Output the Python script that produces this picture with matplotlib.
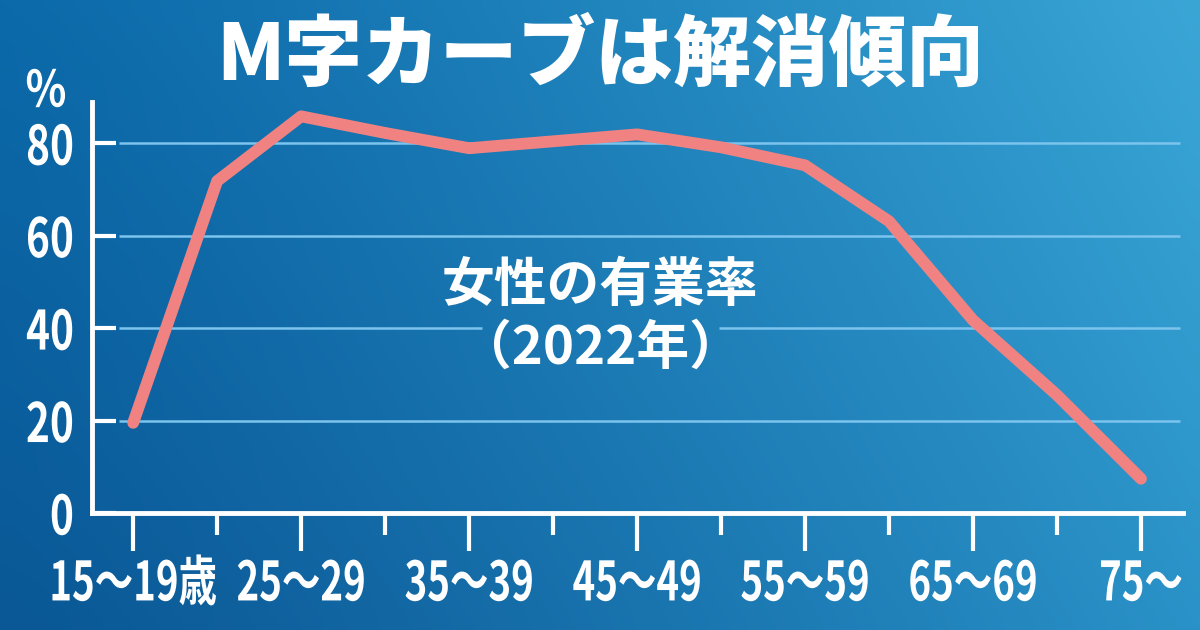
import numpy as np
import matplotlib
matplotlib.use("Agg")
import matplotlib.pyplot as plt
from matplotlib.colors import to_rgb
from matplotlib.patheffects import AbstractPathEffect
from matplotlib.transforms import Affine2D

# data (女性の有業率, 2022年)
ages = ["15～19歳", "20～24", "25～29", "30～34", "35～39", "40～44", "45～49",
        "50～54", "55～59", "60～64", "65～69", "70～74", "75～"]
rate = [19.5, 71.8, 85.8, 82.2, 78.9, 80.4, 81.9, 79.1, 75.2, 63.1, 41.7, 25.5, 7.4]
yticks = [0, 20, 40, 60, 80]

jp_font = ["Noto Sans CJK JP", "DejaVu Sans"]


class Squeeze(AbstractPathEffect):
    """narrow the glyphs horizontally around x = cx (display px)"""
    def __init__(self, sx, cx):
        super().__init__()
        self.sx, self.cx = sx, cx

    def draw_path(self, renderer, gc, tpath, affine, rgbFace=None):
        t = affine + Affine2D().translate(-self.cx, 0).scale(self.sx, 1).translate(self.cx, 0)
        renderer.draw_path(gc, tpath, t, rgbFace)


fig = plt.figure(figsize=(12, 6.3), dpi=100)

# background gradient (dark blue left/bottom -> light blue top-right)
tl, tr = np.array(to_rgb("#0c6aaa")), np.array(to_rgb("#3aa6d6"))
bl, br = np.array(to_rgb("#0a5896")), np.array(to_rgb("#2a92c8"))
h, w = 63, 120
u = (np.linspace(0, 1, w) ** 1.2)[None, :, None]
v = np.linspace(0, 1, h)[:, None, None]
grad = (tl * (1 - u) + tr * u) * (1 - v) + (bl * (1 - u) + br * u) * v
bg = fig.add_axes([0, 0, 1, 1], zorder=-1)
bg.imshow(grad, aspect="auto", interpolation="bicubic", extent=[0, 1, 0, 1])
bg.axis("off")

ax = fig.add_axes([92 / 1200, 1 - 513 / 630, (1183 - 92) / 1200, (513 - 102) / 630])
ax.patch.set_alpha(0)
x = np.arange(len(ages))
ax.set_xlim(-0.49, 12.5)
ax.set_ylim(0, 88.9)

for s in ["top", "right"]:
    ax.spines[s].set_visible(False)
for s in ["left", "bottom"]:
    ax.spines[s].set_color("white")
    ax.spines[s].set_linewidth(3.5)

# grid lines; the 40 line is broken behind the "（2022年）" label
gl = dict(color="#7cc4ee", lw=1.8, zorder=1)
ax.hlines([20, 60, 80], -0.17, 12.47, **gl)
ax.hlines([40, 40], [-0.17, 6.97], [4.15, 12.47], **gl)

ax.plot(x, rate, color="#f08282", lw=8.5, solid_capstyle="round",
        solid_joinstyle="round", zorder=3)

ax.set_yticks(yticks)
ax.set_yticklabels([str(t) for t in yticks])
ax.tick_params(axis="y", direction="in", length=17, width=3, color="white",
               pad=13, labelcolor="white", labelsize=39)
ax.set_xticks(x[::2])
ax.set_xticklabels(ages[::2])
ax.set_xticks(x[1::2], minor=True)
ax.tick_params(axis="x", which="major", direction="out", length=27, width=3,
               color="white", pad=5, labelcolor="white", labelsize=39)
ax.tick_params(axis="x", which="minor", direction="out", length=16, width=3,
               color="white")
for lab in ax.get_xticklabels() + ax.get_yticklabels():
    lab.set_family(jp_font)
    lab.set_fontweight("bold")

pct = fig.text(46 / 1200, 1 - 92 / 630, "%", color="white", fontsize=36,
               fontweight="bold", family=jp_font, ha="center", va="center")

fig.text(0.5, 1 - 57 / 630, "M字カーブは解消傾向", color="white", fontsize=56,
         fontweight="heavy", family=jp_font, ha="center", va="center")

fig.text(0.5, 1 - 285 / 630, "女性の有業率", color="white", fontsize=38,
         fontweight="bold", family=jp_font, ha="center", va="center")
fig.text(0.5, 1 - 348 / 630, "（2022年）", color="white", fontsize=38,
         fontweight="bold", family=jp_font, ha="center", va="center")

# condensed look of the numeric labels
fig.canvas.draw()
r = fig.canvas.get_renderer()
for lab in ax.get_xticklabels():
    bb = lab.get_window_extent(r)
    lab.set_path_effects([Squeeze(0.71, (bb.x0 + bb.x1) / 2)])
for lab in ax.get_yticklabels():
    bb = lab.get_window_extent(r)
    lab.set_path_effects([Squeeze(0.75, bb.x1)])
bb = pct.get_window_extent(r)
pct.set_path_effects([Squeeze(0.85, (bb.x0 + bb.x1) / 2)])

fig.savefig("out.png", dpi=100)
